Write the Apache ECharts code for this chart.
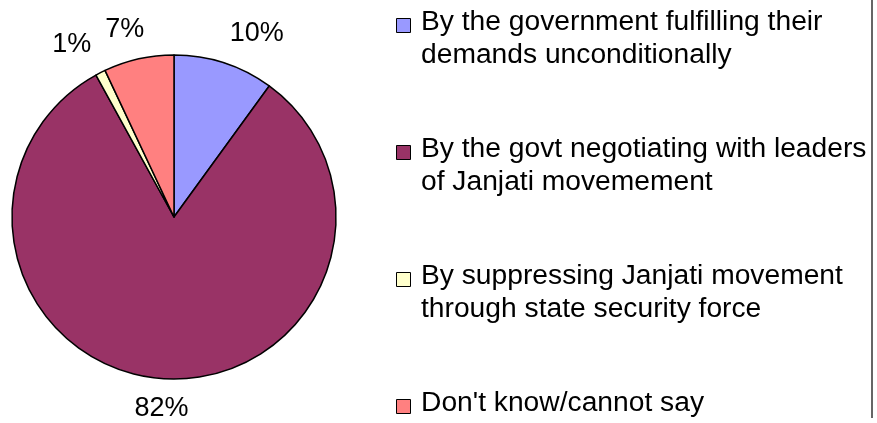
<!DOCTYPE html>
<html>
<head>
<meta charset="utf-8">
<title>Janjati movement survey</title>
<script src="https://cdn.jsdelivr.net/npm/echarts@6/dist/echarts.min.js"></script>
<style>
  html, body { margin: 0; padding: 0; background: #ffffff; }
  #chart { width: 877px; height: 423px; }
</style>
</head>
<body>
<div id="chart"></div>
<script>
// Survey answers and their shares (percent)
const categories = [
  'By the government fulfilling their\ndemands unconditionally',
  'By the govt negotiating with leaders\nof Janjati movemement',
  'By suppressing Janjati movement\nthrough state security force',
  "Don't know/cannot say"
];
const values = [10, 82, 1, 7];
const colors = ['#9999FF', '#993366', '#FFFFCC', '#FF8080'];

// Layout
const FONT = 'Liberation Sans, Arial, sans-serif';
const CX = 174, CY = 217, R = 162;
const LABEL_R = 182;          // anchor distance of the percent labels
const LEGEND_X = 396, LEGEND_TEXT_X = 421;
const LEGEND_BASE0 = 31, LEGEND_STEP = 127, LEGEND_FONT = 27, LEGEND_LH = 33;
const LEGEND_STRETCH = 1.045; // slightly wide legend lettering

const total = values.reduce((a, b) => a + b, 0);
function midAngle(i) {
  let acc = 0;
  for (let k = 0; k < i; k++) acc += values[k];
  return (acc + values[i] / 2) / total * 2 * Math.PI; // clockwise from 12 o'clock
}
const clamp = v => Math.max(-1, Math.min(1, v));
const ease = v => Math.sign(v) * Math.min(1, Math.pow(Math.abs(v) * 3.2, 2));

// Legend drawn as graphic elements: swatch beside the first text line
const legendGraphics = [];
categories.forEach((name, i) => {
  const base = LEGEND_BASE0 + i * LEGEND_STEP;
  legendGraphics.push({
    type: 'rect',
    shape: { x: LEGEND_X + 0.5, y: base - 13 + 0.5, width: 14, height: 14 },
    style: { fill: colors[i], stroke: '#000000', lineWidth: 1 }
  });
  legendGraphics.push({
    type: 'text',
    x: LEGEND_TEXT_X,
    y: base - 24.5,
    scaleX: LEGEND_STRETCH,
    style: {
      text: name,
      font: LEGEND_FONT + 'px ' + FONT,
      lineHeight: LEGEND_LH,
      fill: '#000000',
      align: 'left',
      verticalAlign: 'top'
    }
  });
});
// Right frame edge
legendGraphics.push({
  type: 'line',
  shape: { x1: 872, y1: 0, x2: 872, y2: 418 },
  style: { stroke: '#333333', lineWidth: 1.5 }
});

const chart = echarts.init(document.getElementById('chart'), null, { renderer: 'canvas' });
chart.setOption({
  animation: false,
  backgroundColor: '#ffffff',
  graphic: legendGraphics,
  series: [{
    type: 'pie',
    center: [CX, CY],
    radius: R,
    startAngle: 90,
    clockwise: true,
    avoidLabelOverlap: false,
    silent: true,
    data: categories.map((name, i) => ({
      name: name,
      value: values[i],
      itemStyle: { color: colors[i] }
    })),
    itemStyle: { borderColor: '#000000', borderWidth: 1.5 },
    label: {
      show: true,
      position: 'outside',
      formatter: p => p.value + '%',
      fontFamily: FONT,
      fontSize: 27,
      color: '#000000'
    },
    labelLine: { show: false },
    labelLayout: function (p) {
      const th = midAngle(p.dataIndex);
      const s = Math.sin(th), c = Math.cos(th);
      const px = CX + LABEL_R * s, py = CY - LABEL_R * c;
      const w = p.labelRect.width;
      return {
        x: px + w / 2 * ease(s),
        y: py - 10 * clamp(3.2 * c),
        align: 'center',
        verticalAlign: 'middle'
      };
    },
    emphasis: { disabled: true }
  }]
});
</script>
</body>
</html>
